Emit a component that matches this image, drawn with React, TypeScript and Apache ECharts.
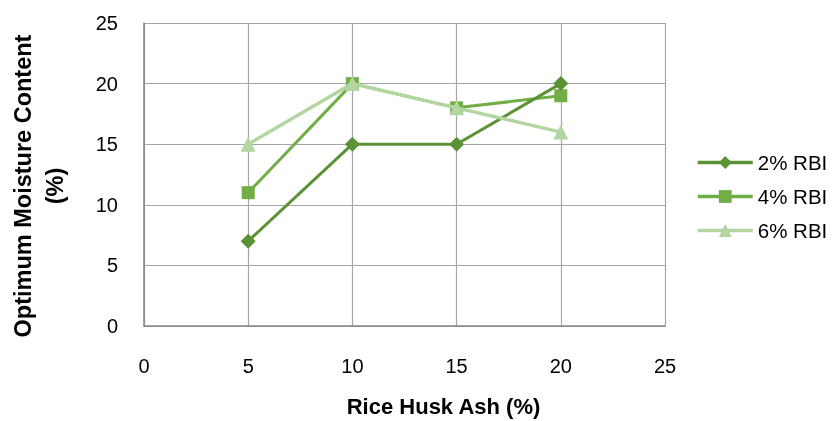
import React, { useEffect, useRef } from "react";
import * as echarts from "echarts";

const xValues = [5, 10, 15, 20];
const rbi2 = [7, 15, 15, 20];
const rbi4 = [11, 20, 18, 19];
const rbi6 = [15, 20, 18, 16];
const seriesNames = ["2% RBI", "4% RBI", "6% RBI"];
const colors = ["#5b9236", "#72ae48", "#b3d5a0"];

const FONT = "'Liberation Sans', Arial, sans-serif";

export default function App() {
  const ref = useRef<HTMLDivElement>(null);
  useEffect(() => {
    const chart = echarts.init(ref.current!, null, { renderer: "svg" });
    const mk = (vals: number[]) => xValues.map((x, i) => [x, vals[i]]);
    chart.setOption({
      animation: false,
      textStyle: { fontFamily: FONT },
      grid: { left: 144, top: 23, width: 521, height: 303, outerBoundsMode: "none", containLabel: false },
      legend: {
        orient: "vertical",
        left: 696,
        top: 152,
        padding: 0,
        itemGap: 13,
        itemWidth: 55,
        itemHeight: 16,
        lineStyle: { width: 3.5 },
        textStyle: { fontFamily: FONT, fontSize: 20.5, color: "#000" },
        data: seriesNames,
      },
      xAxis: {
        type: "value",
        min: 0,
        max: 25,
        interval: 5,
        name: "Rice Husk Ash (%)",
        nameLocation: "middle",
        nameGap: 69,
        nameTextStyle: { fontFamily: FONT, fontSize: 22, fontWeight: "bold", color: "#000", padding: [0, 0, 0, 78] },
        axisLine: { show: true, lineStyle: { color: "#868686", width: 1.5 } },
        axisTick: { show: false },
        axisLabel: { fontFamily: FONT, fontSize: 20, color: "#000", margin: 30 },
        splitLine: { show: true, lineStyle: { color: "#a6a6a6", width: 1.2 } },
      },
      yAxis: {
        type: "value",
        min: 0,
        max: 25,
        interval: 5,
        name: "Optimum Moisture Content\n(%)",
        nameLocation: "middle",
        nameGap: 73,
        nameTextStyle: { fontFamily: FONT, fontSize: 23.5, fontWeight: "bold", color: "#000", lineHeight: 32, padding: [0, 23, 0, 0] },
        axisLine: { show: true, lineStyle: { color: "#868686", width: 1.5 } },
        axisTick: { show: false },
        axisLabel: { fontFamily: FONT, fontSize: 20, color: "#000", margin: 26 },
        splitLine: { show: true, lineStyle: { color: "#a6a6a6", width: 1.2 } },
      },
      series: [
        {
          name: seriesNames[0],
          type: "line",
          data: mk(rbi2),
          symbol: "diamond",
          symbolSize: 15,
          color: colors[0],
          lineStyle: { width: 3, color: colors[0] },
          itemStyle: { color: colors[0] },
          z: 4,
        },
        {
          name: seriesNames[1],
          type: "line",
          data: mk(rbi4),
          symbol: "rect",
          symbolSize: 13,
          color: colors[1],
          lineStyle: { width: 3, color: colors[1] },
          itemStyle: { color: colors[1] },
          z: 3,
        },
        {
          name: seriesNames[2],
          type: "line",
          data: mk(rbi6),
          symbol: "triangle",
          symbolSize: 15,
          color: colors[2],
          lineStyle: { width: 3.5, color: colors[2] },
          itemStyle: { color: colors[2] },
          z: 5,
        },
      ],
    });
    return () => chart.dispose();
  }, []);
  return (
    <div
      ref={ref}
      style={{ position: "fixed", left: 0, top: 0, width: 832, height: 421 }}
    />
  );
}
